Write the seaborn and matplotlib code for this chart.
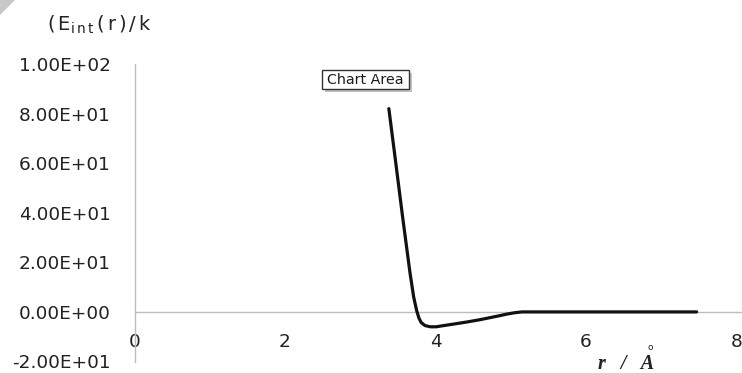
import numpy as np
import pandas as pd
import matplotlib
matplotlib.use("Agg")
import matplotlib.pyplot as plt
from matplotlib.patches import Rectangle, Polygon
from matplotlib.ticker import FuncFormatter
import seaborn as sns

# Interaction energy curve (r in Angstrom, E_int/k)
r_vals = [3.38, 3.46, 3.56, 3.66, 3.71, 3.75, 3.78, 3.81, 3.86, 3.93, 4.01,
          4.09, 4.22, 4.41, 4.58, 4.71, 4.84, 4.96, 5.06, 5.15, 5.50, 6.00,
          6.50, 7.00, 7.47]
e_vals = [82.0, 63.0, 39.0, 16.0, 6.0, 0.5, -2.5, -4.3, -5.5, -6.0, -6.0,
          -5.6, -5.0, -4.1, -3.2, -2.4, -1.6, -0.8, -0.3, 0.0, 0.0, 0.0,
          0.0, 0.0, 0.0]
x_ticks = [0, 2, 4, 6, 8]
y_ticks = [-20, 0, 20, 40, 60, 80, 100]

df = pd.DataFrame({"r": r_vals, "E": e_vals})

sns.set_theme(style="white")
plt.rcParams["font.family"] = ["DejaVu Sans"]
plt.rcParams["mathtext.fontset"] = "dejavusans"

W, H = 742, 373
fig = plt.figure(figsize=(W / 100, H / 100), dpi=100)
fig.patch.set_facecolor("white")
ax = fig.add_axes([134.5 / W, (H - 361.5) / H, 602 / W, 297.5 / H])
ax.set_facecolor("white")

sns.lineplot(data=df, x="r", y="E", ax=ax, color="#111111", linewidth=2.3,
             legend=False, zorder=3)

ax.set_xlim(0, 8)
ax.set_ylim(-20, 100)
ax.set_xticks(x_ticks)
ax.set_yticks(y_ticks)
ax.yaxis.set_major_formatter(FuncFormatter(lambda v, _: f"{v:.2E}"))
ax.set_xlabel("")
ax.set_ylabel("")

for side in ("top", "right"):
    ax.spines[side].set_visible(False)
ax.spines["bottom"].set_position(("data", 0))
for side in ("left", "bottom"):
    ax.spines[side].set_color("#bdbdbd")
    ax.spines[side].set_linewidth(1.0)

# horizontal axis line runs on to the right edge
ax.plot([8, 8.06], [0, 0], color="#bdbdbd", linewidth=1.0, clip_on=False,
        zorder=2)

ax.tick_params(axis="y", length=0, pad=17, labelsize=13.3, labelcolor="#222222")
ax.tick_params(axis="x", length=0, pad=15.5, labelsize=13.3, labelcolor="#222222")

# Axis titles
fig.text(47 / W, 1 - 31 / H,
         r"$(\,\mathrm{E}_{\mathrm{i\,n\,t}}\,(\,\mathrm{r}\,)\,/\,\mathrm{k}$",
         fontsize=14, color="#222222", ha="left", va="baseline")
fig.text(598 / W, 1 - 369 / H, "r   /   A", fontsize=14.5,
         family="Liberation Serif", style="italic", weight="bold",
         color="#222222", ha="left", va="baseline")
fig.text(650 / W, 1 - 350 / H, "o", fontsize=6.5, family="DejaVu Sans",
         color="#222222", ha="center", va="baseline")

# "Chart Area" tooltip with drop shadow
fig.add_artist(Rectangle((325 / W, 1 - 92 / H), 87 / W, 19 / H,
                         transform=fig.transFigure, facecolor="#9a9a9a",
                         edgecolor="none", alpha=0.6, zorder=5))
fig.add_artist(Rectangle((322 / W, 1 - 89 / H), 87 / W, 19 / H,
                         transform=fig.transFigure, facecolor="white",
                         edgecolor="#333333", linewidth=1.0, zorder=6))
fig.text(365.5 / W, 1 - 80 / H, "Chart Area", fontsize=10.3, color="#1a1a1a",
         ha="center", va="center", zorder=7)

# Grey corner fold at top-left
fig.add_artist(Polygon([(0, 1), (15 / W, 1), (0, 1 - 15 / H)], closed=True,
                       transform=fig.transFigure, facecolor="#c8c8c8",
                       edgecolor="none"))

fig.savefig("out.png", dpi=100)
